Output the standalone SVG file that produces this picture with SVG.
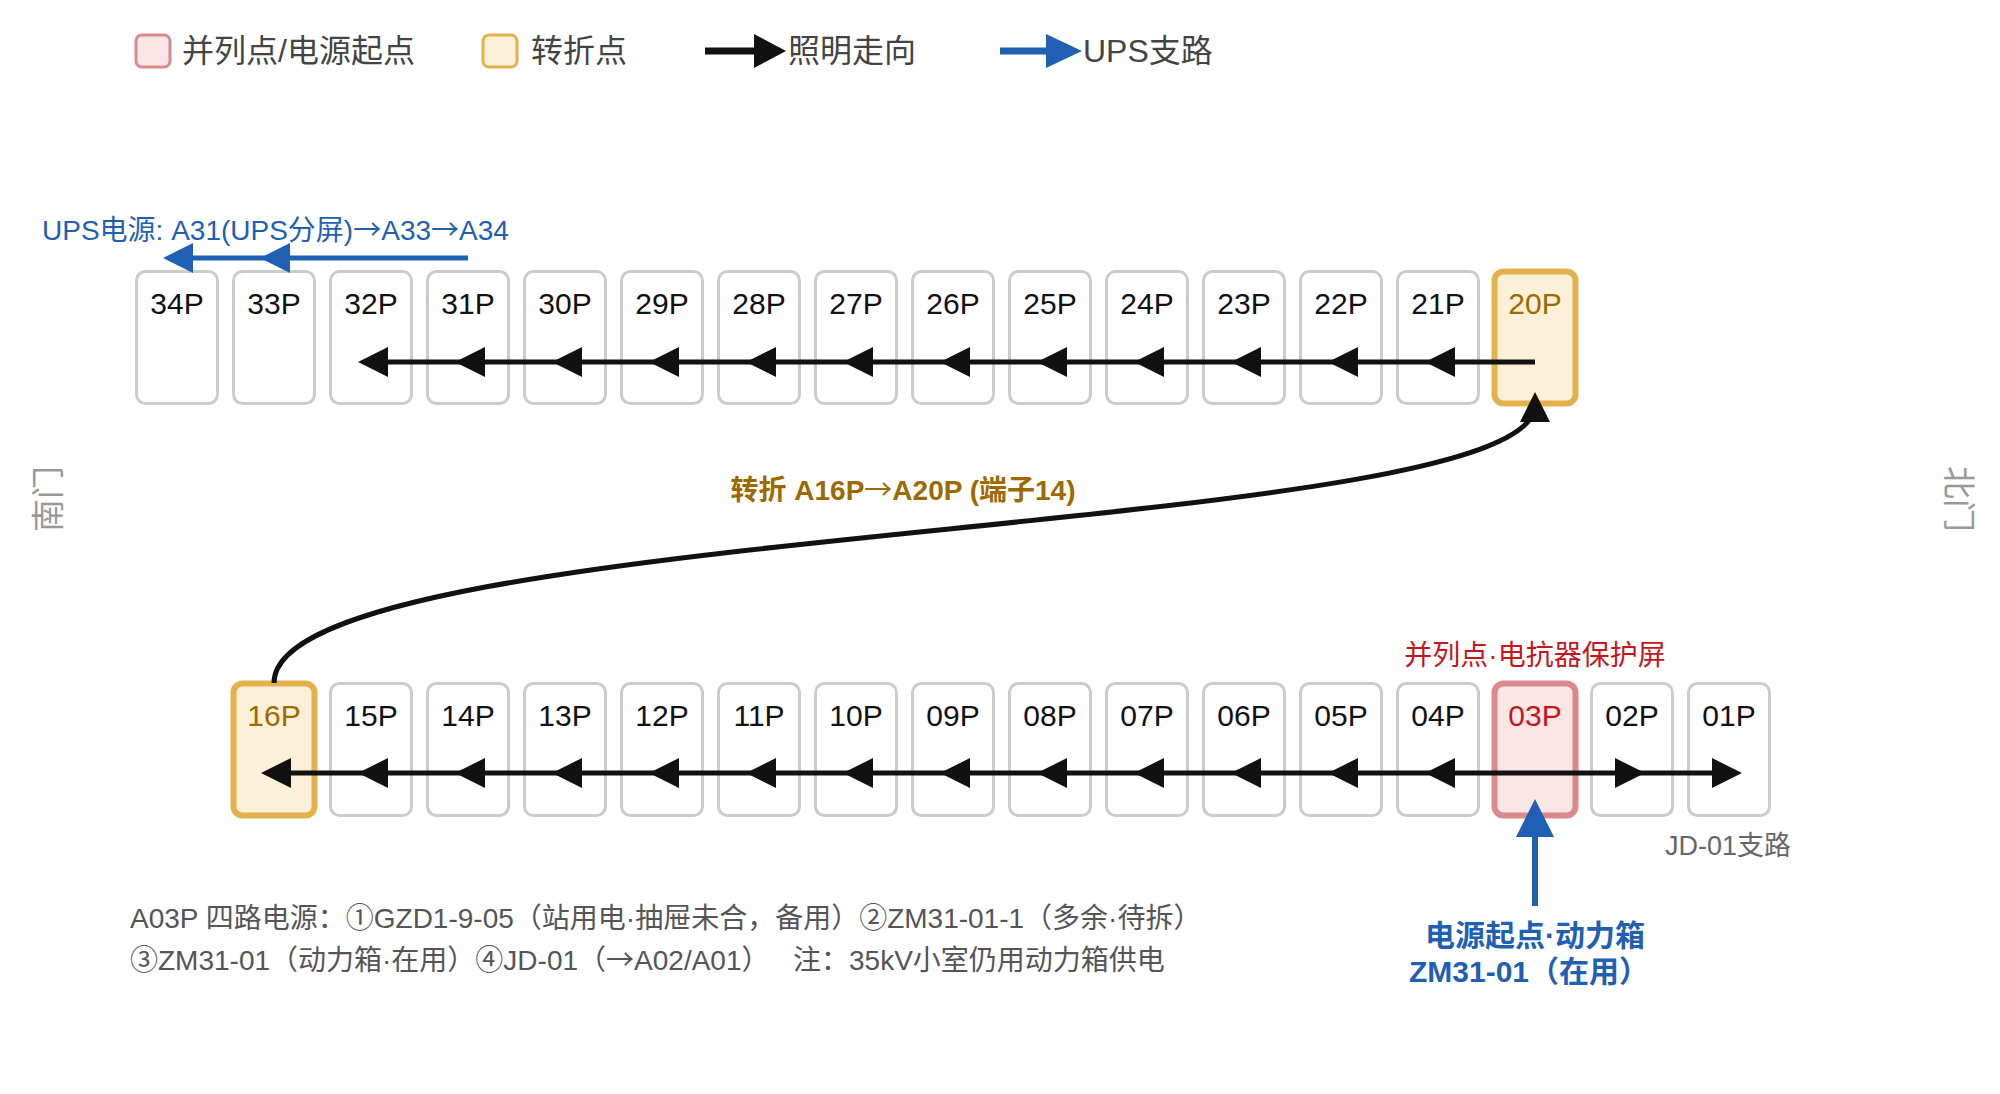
<svg xmlns="http://www.w3.org/2000/svg" width="2000" height="1094" viewBox="0 0 2000 1094">
<style>
text{font-family:"Liberation Sans","Noto Sans CJK SC",sans-serif;}
.box{fill:#fff;stroke:#cccccc;stroke-width:3;}
.gold{fill:#fdf0d8;stroke:#e3b24c;stroke-width:6;}
.red{fill:#fbe6e6;stroke:#da8a8a;stroke-width:6;}
.lbl{font-size:30px;fill:#111;text-anchor:middle;}
.lg{font-size:32px;fill:#444;}
.bl{stroke:#111;stroke-width:5;fill:none;}
.ub{stroke:#1f5fb4;stroke-width:5;fill:none;}
.ar{font-family:"Noto Sans CJK SC",sans-serif;font-weight:normal;}
</style>
<defs>
<marker id="ak" markerUnits="userSpaceOnUse" markerWidth="30" markerHeight="30" viewBox="0 0 30 30" refX="17" refY="15" orient="auto"><path d="M0,0 L30,15 L0,30 z" fill="#111"/></marker>
<marker id="ab" markerUnits="userSpaceOnUse" markerWidth="30" markerHeight="30" viewBox="0 0 30 30" refX="16" refY="15" orient="auto"><path d="M0,0 L30,15 L0,30 z" fill="#1f5fb4"/></marker>
<marker id="ab2" markerUnits="userSpaceOnUse" markerWidth="38" markerHeight="38" viewBox="0 0 38 38" refX="19" refY="19" orient="auto"><path d="M0,0 L38,19 L0,38 z" fill="#1f5fb4"/></marker>
</defs>
<rect width="2000" height="1094" fill="#fff"/>

<g id="legend">
<rect x="136" y="35" width="34" height="32" rx="6" fill="#fbe6e6" stroke="#da8a8a" stroke-width="3"/>
<text class="lg" x="182" y="62">并列点/电源起点</text>
<rect x="483" y="35" width="34" height="32" rx="6" fill="#fdf0d8" stroke="#e3b24c" stroke-width="3"/>
<text class="lg" x="531" y="62">转折点</text>
<line x1="705" y1="51" x2="758" y2="51" stroke="#111" stroke-width="7"/>
<path d="M754,34 L786,51 L754,68 z" fill="#111"/>
<text class="lg" x="788" y="62">照明走向</text>
<line x1="1000" y1="51" x2="1050" y2="51" stroke="#1f5fb4" stroke-width="7"/>
<path d="M1046,34 L1082,51 L1046,68 z" fill="#1f5fb4"/>
<text class="lg" x="1083" y="62">UPS支路</text>
</g>

<g id="side">
<text x="48" y="499" font-size="33" fill="#999" text-anchor="middle" dominant-baseline="central" transform="rotate(-90 48 499)">南门</text>
<text x="1958" y="499" font-size="33" fill="#999" text-anchor="middle" dominant-baseline="central" transform="rotate(90 1958 499)">北门</text>
</g>

<g id="top-row">
<g id="n34P"><rect class="box" x="136.5" y="271.5" width="81" height="132" rx="9"/><text class="lbl" x="177" y="314">34P</text></g>
<g id="n33P"><rect class="box" x="233.5" y="271.5" width="81" height="132" rx="9"/><text class="lbl" x="274" y="314">33P</text></g>
<g id="n32P"><rect class="box" x="330.5" y="271.5" width="81" height="132" rx="9"/><text class="lbl" x="371" y="314">32P</text></g>
<g id="n31P"><rect class="box" x="427.5" y="271.5" width="81" height="132" rx="9"/><text class="lbl" x="468" y="314">31P</text></g>
<g id="n30P"><rect class="box" x="524.5" y="271.5" width="81" height="132" rx="9"/><text class="lbl" x="565" y="314">30P</text></g>
<g id="n29P"><rect class="box" x="621.5" y="271.5" width="81" height="132" rx="9"/><text class="lbl" x="662" y="314">29P</text></g>
<g id="n28P"><rect class="box" x="718.5" y="271.5" width="81" height="132" rx="9"/><text class="lbl" x="759" y="314">28P</text></g>
<g id="n27P"><rect class="box" x="815.5" y="271.5" width="81" height="132" rx="9"/><text class="lbl" x="856" y="314">27P</text></g>
<g id="n26P"><rect class="box" x="912.5" y="271.5" width="81" height="132" rx="9"/><text class="lbl" x="953" y="314">26P</text></g>
<g id="n25P"><rect class="box" x="1009.5" y="271.5" width="81" height="132" rx="9"/><text class="lbl" x="1050" y="314">25P</text></g>
<g id="n24P"><rect class="box" x="1106.5" y="271.5" width="81" height="132" rx="9"/><text class="lbl" x="1147" y="314">24P</text></g>
<g id="n23P"><rect class="box" x="1203.5" y="271.5" width="81" height="132" rx="9"/><text class="lbl" x="1244" y="314">23P</text></g>
<g id="n22P"><rect class="box" x="1300.5" y="271.5" width="81" height="132" rx="9"/><text class="lbl" x="1341" y="314">22P</text></g>
<g id="n21P"><rect class="box" x="1397.5" y="271.5" width="81" height="132" rx="9"/><text class="lbl" x="1438" y="314">21P</text></g>
<g id="n20P"><rect class="gold" x="1494.5" y="271.5" width="81" height="132" rx="9"/><text class="lbl" x="1535" y="314" style="fill:#9c6a00">20P</text></g>
</g>

<g id="bottom-row">
<g id="n16P"><rect class="gold" x="233.5" y="683.5" width="81" height="132" rx="9"/><text class="lbl" x="274" y="726" style="fill:#9c6a00">16P</text></g>
<g id="n15P"><rect class="box" x="330.5" y="683.5" width="81" height="132" rx="9"/><text class="lbl" x="371" y="726">15P</text></g>
<g id="n14P"><rect class="box" x="427.5" y="683.5" width="81" height="132" rx="9"/><text class="lbl" x="468" y="726">14P</text></g>
<g id="n13P"><rect class="box" x="524.5" y="683.5" width="81" height="132" rx="9"/><text class="lbl" x="565" y="726">13P</text></g>
<g id="n12P"><rect class="box" x="621.5" y="683.5" width="81" height="132" rx="9"/><text class="lbl" x="662" y="726">12P</text></g>
<g id="n11P"><rect class="box" x="718.5" y="683.5" width="81" height="132" rx="9"/><text class="lbl" x="759" y="726">11P</text></g>
<g id="n10P"><rect class="box" x="815.5" y="683.5" width="81" height="132" rx="9"/><text class="lbl" x="856" y="726">10P</text></g>
<g id="n09P"><rect class="box" x="912.5" y="683.5" width="81" height="132" rx="9"/><text class="lbl" x="953" y="726">09P</text></g>
<g id="n08P"><rect class="box" x="1009.5" y="683.5" width="81" height="132" rx="9"/><text class="lbl" x="1050" y="726">08P</text></g>
<g id="n07P"><rect class="box" x="1106.5" y="683.5" width="81" height="132" rx="9"/><text class="lbl" x="1147" y="726">07P</text></g>
<g id="n06P"><rect class="box" x="1203.5" y="683.5" width="81" height="132" rx="9"/><text class="lbl" x="1244" y="726">06P</text></g>
<g id="n05P"><rect class="box" x="1300.5" y="683.5" width="81" height="132" rx="9"/><text class="lbl" x="1341" y="726">05P</text></g>
<g id="n04P"><rect class="box" x="1397.5" y="683.5" width="81" height="132" rx="9"/><text class="lbl" x="1438" y="726">04P</text></g>
<g id="n03P"><rect class="red" x="1494.5" y="683.5" width="81" height="132" rx="9"/><text class="lbl" x="1535" y="726" style="fill:#c4161c">03P</text></g>
<g id="n02P"><rect class="box" x="1591.5" y="683.5" width="81" height="132" rx="9"/><text class="lbl" x="1632" y="726">02P</text></g>
<g id="n01P"><rect class="box" x="1688.5" y="683.5" width="81" height="132" rx="9"/><text class="lbl" x="1729" y="726">01P</text></g>
</g>

<g id="connectors">
<g class="bl" marker-end="url(#ak)">
<line x1="1535" y1="362" x2="1438" y2="362"/>
<line x1="1438" y1="362" x2="1341" y2="362"/>
<line x1="1341" y1="362" x2="1244" y2="362"/>
<line x1="1244" y1="362" x2="1147" y2="362"/>
<line x1="1147" y1="362" x2="1050" y2="362"/>
<line x1="1050" y1="362" x2="953" y2="362"/>
<line x1="953" y1="362" x2="856" y2="362"/>
<line x1="856" y1="362" x2="759" y2="362"/>
<line x1="759" y1="362" x2="662" y2="362"/>
<line x1="662" y1="362" x2="565" y2="362"/>
<line x1="565" y1="362" x2="468" y2="362"/>
<line x1="468" y1="362" x2="371" y2="362"/>
<line x1="1535" y1="773" x2="1438" y2="773"/>
<line x1="1438" y1="773" x2="1341" y2="773"/>
<line x1="1341" y1="773" x2="1244" y2="773"/>
<line x1="1244" y1="773" x2="1147" y2="773"/>
<line x1="1147" y1="773" x2="1050" y2="773"/>
<line x1="1050" y1="773" x2="953" y2="773"/>
<line x1="953" y1="773" x2="856" y2="773"/>
<line x1="856" y1="773" x2="759" y2="773"/>
<line x1="759" y1="773" x2="662" y2="773"/>
<line x1="662" y1="773" x2="565" y2="773"/>
<line x1="565" y1="773" x2="468" y2="773"/>
<line x1="468" y1="773" x2="371" y2="773"/>
<line x1="371" y1="773" x2="274" y2="773"/>
<line x1="1535" y1="773" x2="1632" y2="773"/>
<line x1="1632" y1="773" x2="1729" y2="773"/>
<path d="M274,683 C274,520 1535,540 1535,405"/>
</g>
<g class="ub" marker-end="url(#ab)">
<line x1="468" y1="258" x2="274" y2="258"/>
<line x1="274" y1="258" x2="177" y2="258"/>
</g>
<line x1="1535" y1="906" x2="1535" y2="818" stroke="#1f5fb4" stroke-width="6" marker-end="url(#ab2)"/>
</g>

<g id="labels">
<text x="42" y="240" font-size="28" fill="#1f5fb4">UPS电源: A31(UPS分屏)<tspan class="ar">→</tspan>A33<tspan class="ar">→</tspan>A34</text>
<text x="903" y="500" font-size="28" font-weight="bold" fill="#9c6a00" text-anchor="middle">转折 A16P<tspan class="ar">→</tspan>A20P (端子14)</text>
<text x="1535" y="665" font-size="28" fill="#c4161c" text-anchor="middle">并列点·电抗器保护屏</text>
<text x="1665" y="855" font-size="27" fill="#666">JD-01支路</text>
<text x="1535" y="946" font-size="30" font-weight="bold" fill="#1f5fb4" text-anchor="middle">电源起点·动力箱</text>
<text x="1529" y="982" font-size="30" font-weight="bold" fill="#1f5fb4" text-anchor="middle">ZM31-01（在用）</text>
<text x="130" y="928" font-size="28" fill="#555">A03P 四路电源：①GZD1-9-05（站用电·抽屉未合，备用）②ZM31-01-1（多余·待拆）</text>
<text x="130" y="970" font-size="28" fill="#555">③ZM31-01（动力箱·在用）④JD-01（<tspan class="ar">→</tspan>A02/A01）<tspan x="793">注：35kV小室仍用动力箱供电</tspan></text>
</g>
</svg>
